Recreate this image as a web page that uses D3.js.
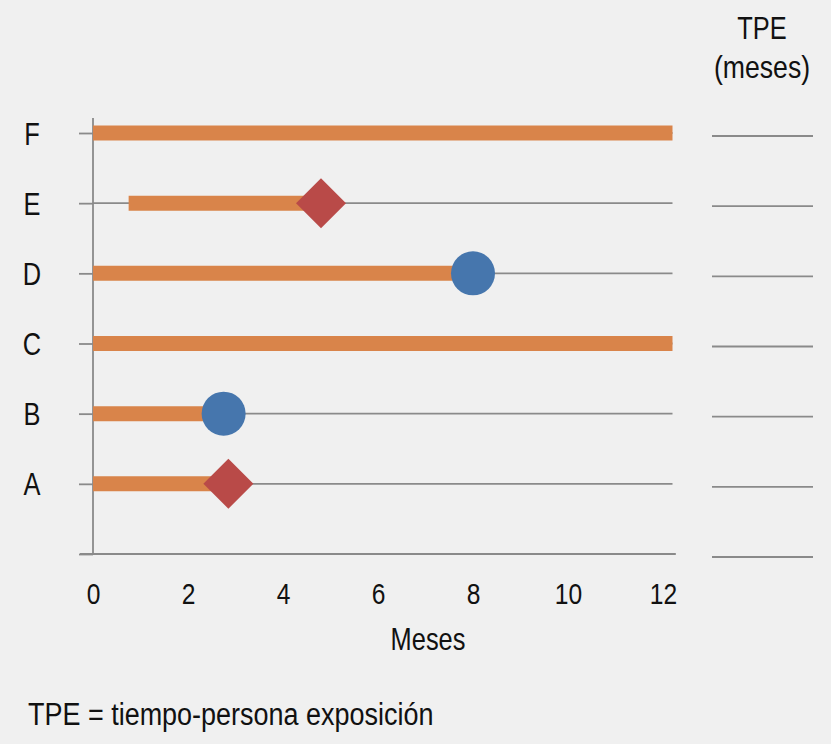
<!DOCTYPE html>
<html>
<head>
<meta charset="utf-8">
<script src="https://cdn.jsdelivr.net/npm/d3@7"></script>
<style>
  html, body { margin: 0; padding: 0; background: #f0f0f0; }
  svg { display: block; }
  text { font-family: "Liberation Sans Narrow", "Arial Narrow", "Liberation Sans", Arial, sans-serif; fill: #111; }
</style>
</head>
<body>
<svg id="chart" width="831" height="744"></svg>
<script>
// ---- data ----
const subjects = ["A", "B", "C", "D", "E", "F"];
const startMonth = [0, 0, 0, 0, 0.75, 0];
const endMonth = [2.85, 2.75, 12.2, 8, 4.8, 12.2];
const eventType = ["diamond", "circle", null, "circle", "diamond", null];
const xTicks = [0, 2, 4, 6, 8, 10, 12];
const xMax = 12.2;      // end of follow-up / gridlines
const xAxisLabel = "Meses";
const tpeHeader = ["TPE", "(meses)"];
const footnote = "TPE = tiempo-persona exposición";

// ---- colors ----
const colBar = "#d9844a", colCircle = "#4676ad", colDiamond = "#b94a48", colGrid = "#8a8a8a";
const NARROW = 0.82; // emulate a narrow sans face

const svg = d3.select("#chart");
svg.append("rect").attr("width", 831).attr("height", 744).attr("fill", "#f0f0f0");

const x = d3.scaleLinear().domain([0, 12]).range([93, 663]);
const y = d3.scaleLinear().domain([-1, subjects.length - 1]).range([554, 133]);
const idx = d3.range(subjects.length);

function narrowText(sel, tx, ty, str, size, anchor, sx) {
  return sel.append("text")
    .attr("transform", `translate(${tx},${ty}) scale(${sx || NARROW},1)`)
    .attr("text-anchor", anchor || "middle")
    .style("font-size", size + "px")
    .text(str);
}

// gridlines per subject
svg.append("g").selectAll("line").data(idx).join("line")
  .attr("x1", x(0)).attr("x2", x(xMax))
  .attr("y1", d => y(d)).attr("y2", d => y(d))
  .attr("stroke", colGrid).attr("stroke-width", 1.8);

// bottom baseline
svg.append("line")
  .attr("x1", x(0) - 13).attr("x2", x(12.27))
  .attr("y1", y(-1)).attr("y2", y(-1))
  .attr("stroke", colGrid).attr("stroke-width", 1.8);

// y axis
const yAxis = d3.axisLeft(y)
  .tickValues([-1].concat(idx))
  .tickSize(14)
  .tickFormat(d => d >= 0 ? subjects[d] : "");
const gy = svg.append("g").attr("transform", `translate(${x(0)},0)`).call(yAxis);
gy.select(".domain").attr("d", `M0,${y(subjects.length - 1) - 15}V${y(-1) + 1}`)
  .attr("stroke", colGrid).attr("stroke-width", 1.8);
gy.selectAll(".tick line").attr("stroke", colGrid).attr("stroke-width", 1.8);
gy.selectAll(".tick text")
  .attr("x", null).attr("dy", null).attr("y", 11)
  .attr("transform", `translate(-61,0) scale(${NARROW},1)`)
  .attr("text-anchor", "middle")
  .style("font-size", "31px").style("font-family", null).attr("fill", "#111");

// x axis labels
const xAxis = d3.axisBottom(x).tickValues(xTicks).tickSize(0).tickPadding(0);
const gx = svg.append("g").attr("transform", `translate(0,${y(-1)})`).call(xAxis);
gx.select(".domain").remove();
gx.selectAll(".tick text")
  .attr("y", 50).attr("dy", null)
  .attr("transform", `scale(${NARROW},1)`)
  .style("font-size", "30px").style("font-family", null).attr("fill", "#111");

// bars
svg.append("g").selectAll("line").data(idx).join("line")
  .attr("x1", d => x(startMonth[d])).attr("x2", d => x(endMonth[d]))
  .attr("y1", d => y(d)).attr("y2", d => y(d))
  .attr("stroke", colBar).attr("stroke-width", 15);

// markers
const ev = idx.filter(d => eventType[d]);
svg.append("g").selectAll("path").data(ev).join("path")
  .attr("transform", d => `translate(${x(endMonth[d])},${y(d)})` + (eventType[d] === "diamond" ? " rotate(45)" : ""))
  .attr("d", d => eventType[d] === "diamond"
      ? d3.symbol(d3.symbolSquare, 1250)()
      : d3.symbol(d3.symbolCircle, Math.PI * 22 * 22)())
  .attr("fill", d => eventType[d] === "diamond" ? colDiamond : colCircle);

// right TPE column
svg.append("g").selectAll("line").data([-1].concat(idx)).join("line")
  .attr("x1", 712).attr("x2", 813)
  .attr("y1", d => y(d) + 3).attr("y2", d => y(d) + 3)
  .attr("stroke", colGrid).attr("stroke-width", 1.8);

narrowText(svg, 762, 39, tpeHeader[0], 31);
narrowText(svg, 762, 78, tpeHeader[1], 31, "middle", 0.86);

// axis title
narrowText(svg, 428, 650, xAxisLabel, 31);

// footnote
narrowText(svg, 28, 725, footnote, 31, "start", 0.87);
</script>
</body>
</html>
